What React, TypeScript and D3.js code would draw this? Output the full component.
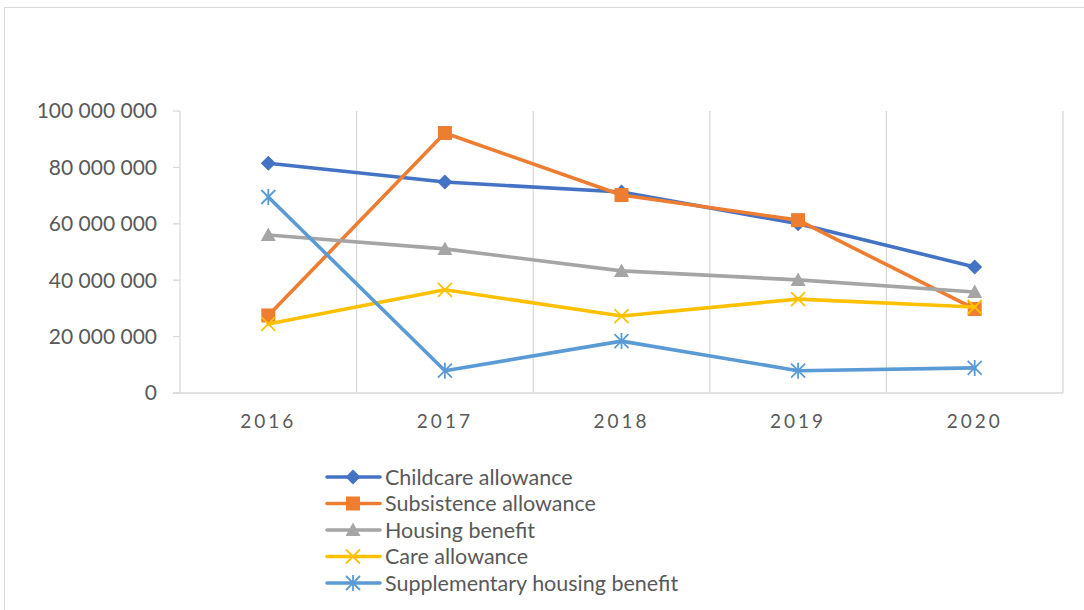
import React from "react";
import * as d3 from "d3";

const years = ["2016", "2017", "2018", "2019", "2020"];
const yTicks = [0, 20000000, 40000000, 60000000, 80000000, 100000000];
const yTickLabels = ["0", "20 000 000", "40 000 000", "60 000 000", "80 000 000", "100 000 000"];

const childcare = [81500000, 74800000, 71300000, 60000000, 44700000];
const subsistence = [27500000, 92200000, 70200000, 61300000, 29800000];
const housing = [56000000, 51100000, 43300000, 40100000, 35800000];
const care = [24500000, 36600000, 27300000, 33300000, 30500000];
const supplementary = [69500000, 7900000, 18400000, 7900000, 8900000];

const seriesNames = [
  "Childcare allowance",
  "Subsistence allowance",
  "Housing benefit",
  "Care allowance",
  "Supplementary housing benefit",
];
const seriesValues = [childcare, subsistence, housing, care, supplementary];
const seriesColors = ["#4472C4", "#ED7D31", "#A5A5A5", "#FFC000", "#5B9BD5"];
const seriesMarkers = ["diamond", "square", "triangle", "x", "star"];

const FONT = "Lato, 'Open Sans', sans-serif";

function Marker({ type, x, y, color }: { type: string; x: number; y: number; color: string }) {
  if (type === "diamond") {
    const r = 7.5;
    return <path d={`M${x},${y - r}L${x + r},${y}L${x},${y + r}L${x - r},${y}Z`} fill={color} />;
  }
  if (type === "square") {
    const r = 7;
    return <rect x={x - r} y={y - r} width={2 * r} height={2 * r} fill={color} />;
  }
  if (type === "triangle") {
    const r = 7.5;
    return <path d={`M${x},${y - r}L${x + r},${y + r * 0.8}L${x - r},${y + r * 0.8}Z`} fill={color} />;
  }
  if (type === "x") {
    const r = 7;
    return (
      <path d={`M${x - r},${y - r}L${x + r},${y + r}M${x - r},${y + r}L${x + r},${y - r}`} stroke={color} strokeWidth={1.8} />
    );
  }
  const r = 7;
  return (
    <path
      d={`M${x - r},${y - r}L${x + r},${y + r}M${x - r},${y + r}L${x + r},${y - r}M${x},${y - r - 1}L${x},${y + r + 1}`}
      stroke={color}
      strokeWidth={1.8}
    />
  );
}

export default function App() {
  const x = d3.scaleBand<string>().domain(years).range([180, 1063]);
  const y = d3.scaleLinear().domain([0, 100000000]).range([393, 111]);
  const cx = (yr: string) => (x(yr) as number) + x.bandwidth() / 2;
  const line = d3
    .line<number>()
    .x((_, i) => cx(years[i]))
    .y((v) => y(v));

  const gridXs = years.map((yr) => (x(yr) as number) + x.bandwidth());

  const legendY0 = 477;
  const legendStep = 26.5;

  return (
    <svg
      width={1084}
      height={610}
      style={{ position: "absolute", left: 0, top: 0, background: "#fff" }}
    >
      <rect x={4.5} y={7.5} width={1100} height={620} fill="#fff" stroke="#d9d9d9" strokeWidth={1} />
      {gridXs.map((gx, i) => (
        <line key={i} x1={gx} x2={gx} y1={111} y2={393} stroke="#d9d9d9" strokeWidth={1.3} />
      ))}
      <line x1={180} x2={180} y1={111} y2={393} stroke="#d9d9d9" strokeWidth={1.3} />
      <line x1={173} x2={1063} y1={393} y2={393} stroke="#d9d9d9" strokeWidth={1.3} />
      {yTicks.map((t, i) => (
        <g key={i}>
          <line x1={173} x2={180} y1={y(t)} y2={y(t)} stroke="#d9d9d9" strokeWidth={1.3} />
          <text
            x={157}
            y={y(t)}
            dy="0.35em"
            textAnchor="end"
            fontFamily={FONT}
            fontSize={21}
            fill="#595959"
          >
            {yTickLabels[i]}
          </text>
        </g>
      ))}
      {years.map((yr) => (
        <text
          key={yr}
          x={cx(yr)}
          y={428}
          textAnchor="middle"
          fontFamily={FONT}
          fontSize={19}
          letterSpacing={3}
          fill="#595959"
        >
          {yr}
        </text>
      ))}
      {seriesValues.map((vals, si) => (
        <g key={si}>
          <path d={line(vals) as string} fill="none" stroke={seriesColors[si]} strokeWidth={3.6} strokeLinejoin="round" strokeLinecap="round" />
          {vals.map((v, i) => (
            <Marker key={i} type={seriesMarkers[si]} x={cx(years[i])} y={y(v)} color={seriesColors[si]} />
          ))}
        </g>
      ))}
      {seriesNames.map((name, si) => {
        const ly = legendY0 + si * legendStep;
        return (
          <g key={name}>
            <line x1={327} x2={380} y1={ly} y2={ly} stroke={seriesColors[si]} strokeWidth={3.6} strokeLinecap="round" />
            <Marker type={seriesMarkers[si]} x={353} y={ly} color={seriesColors[si]} />
            <text x={385} y={ly} dy="0.35em" fontFamily={FONT} fontSize={21.5} fill="#595959">
              {name}
            </text>
          </g>
        );
      })}
    </svg>
  );
}
